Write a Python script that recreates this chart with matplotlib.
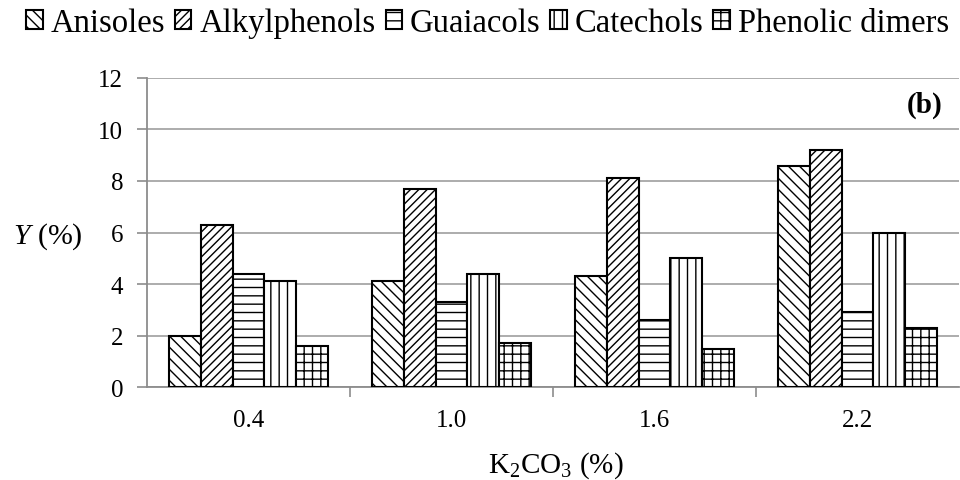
import numpy as np
import matplotlib
matplotlib.use("Agg")
import matplotlib.pyplot as plt

plt.rcParams["font.family"] = ["Liberation Serif", "DejaVu Serif"]
plt.rcParams["mathtext.fontset"] = "custom"
plt.rcParams["mathtext.rm"] = "Liberation Serif"
plt.rcParams["mathtext.it"] = "Liberation Serif:italic"
plt.rcParams["mathtext.bf"] = "Liberation Serif:bold"
plt.rcParams["hatch.linewidth"] = 1.0

##### Data #####
categories = ["0.4", "1.0", "1.6", "2.2"]
series_names = ["Anisoles", "Alkylphenols", "Guaiacols", "Catechols", "Phenolic dimers"]
anisoles = [2.0, 4.1, 4.3, 8.6]
alkylphenols = [6.3, 7.7, 8.1, 9.2]
guaiacols = [4.4, 3.3, 2.6, 2.9]
catechols = [4.1, 4.4, 5.0, 6.0]
dimers = [1.6, 1.7, 1.5, 2.3]
hatches = ["\\\\\\", "////", "--", "||", "++"]

values = [anisoles, alkylphenols, guaiacols, catechols, dimers]

##### Plot #####
fig = plt.figure(figsize=(9.6, 4.81), dpi=100)
ax = fig.add_axes([0.153, 0.193, 0.846, 0.643])

x = np.arange(len(categories))
width = 0.156
for i, (name, vals, h) in enumerate(zip(series_names, values, hatches)):
    ax.bar(x + (i - 2) * width, vals, width, label=name, color="white",
           edgecolor="black", linewidth=1.5, hatch=h, zorder=3)

ax.set_ylim(0, 12)
ax.set_yticks(np.arange(0, 13, 2))
ax.set_xlim(-0.5, len(categories) - 0.5)
ax.set_xticks(x)
ax.set_xticklabels(categories)
ax.set_xticks(np.arange(0.5, len(categories) - 0.5, 1), minor=True)
ax.tick_params(axis="x", which="major", length=0, pad=16, labelsize=18)
ax.tick_params(axis="x", which="minor", length=7, color="#8c8c8c", width=1.2)
ax.tick_params(axis="y", length=7, color="#8c8c8c", width=1.2, pad=10, labelsize=18)

ax.grid(axis="y", color="#a6a6a6", linewidth=1.3, zorder=0)
for side in ["top", "right"]:
    ax.spines[side].set_visible(False)
for side in ["left", "bottom"]:
    ax.spines[side].set_color("#8c8c8c")
    ax.spines[side].set_linewidth(1.3)

ax.set_xlabel(r"K$_2$CO$_3$ (%)", fontsize=21, va="baseline")
ax.xaxis.set_label_coords(0.504, -0.272)
ax.set_ylabel(r"$Y$ (%)", fontsize=21.5, rotation=0, ha="right", va="center")
ax.yaxis.set_label_coords(-0.079, 0.49)
ax.text(0.980, 0.916, "(b)", transform=ax.transAxes, ha="right", va="center",
        fontsize=21, fontweight="bold")

fig.legend(loc="center", bbox_to_anchor=(0.508, 0.95), ncol=5, frameon=False,
           fontsize=23.5, handlelength=0.5, handleheight=0.5, handletextpad=0.25,
           columnspacing=0.3, borderaxespad=0.0)

fig.savefig("out.png", dpi=100)
